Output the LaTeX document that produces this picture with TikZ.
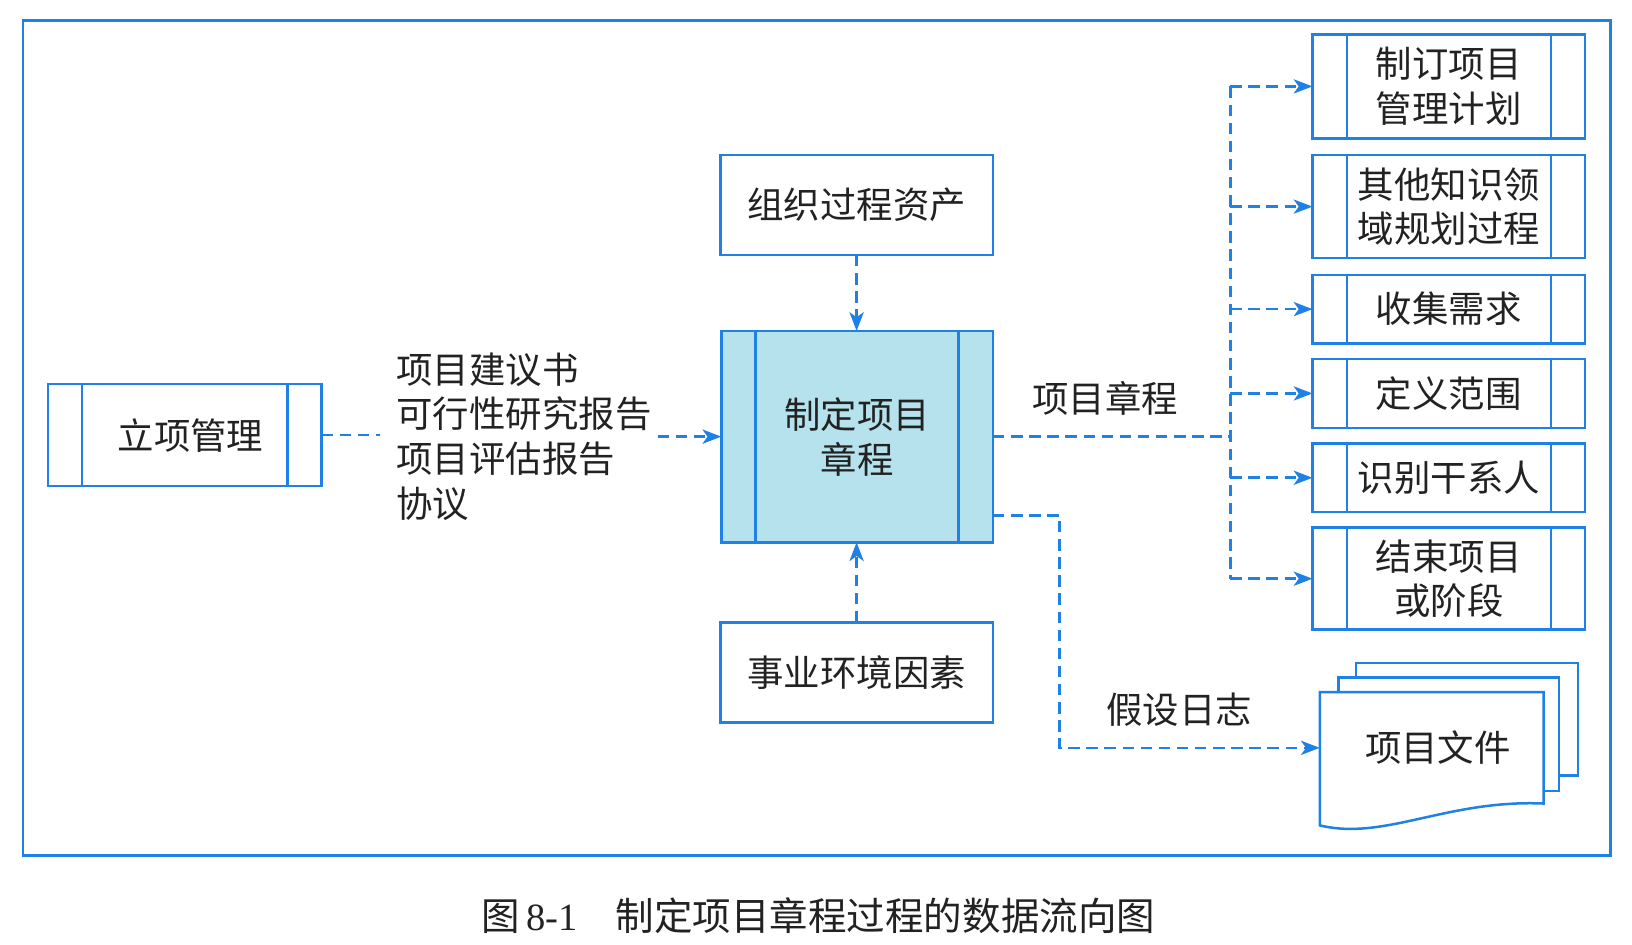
\documentclass[tikz,border=0pt]{standalone}
\usepackage{fontspec}
\setmainfont{Noto Sans CJK SC}
\newfontfamily\serfont{Liberation Serif}
\usetikzlibrary{arrows.meta,calc}
\definecolor{bl}{HTML}{1F80E6}
\definecolor{cy}{HTML}{B5E2EC}
\definecolor{tx}{HTML}{222222}
\tikzset{
  txtfont/.style={font=\fontsize{17.5pt}{21.5pt}\selectfont},
  plainbox/.style={draw=bl, line width=1.2pt, outer sep=0pt, inner sep=0pt,
    align=center, text=tx, txtfont},
  procbox/.style={plainbox,
    path picture={\draw[bl,line width=1.2pt]
      ([xshift=16.5pt]path picture bounding box.north west) -- ([xshift=16.5pt]path picture bounding box.south west)
      ([xshift=-16.5pt]path picture bounding box.north east) -- ([xshift=-16.5pt]path picture bounding box.south east);}},
  flow/.style={draw=bl, line width=1.25pt, dash pattern=on 5.5pt off 3.2pt},
  arr/.style={flow, -{Stealth[length=9pt,width=6.8pt,inset=2.4pt]}},
  lbl/.style={text=tx, txtfont, inner sep=0pt, outer sep=0pt},
  docpage/.style={draw=bl, fill=white, line width=1.2pt}
}
\begin{document}
\begin{tikzpicture}[x=0.5pt,y=-0.5pt]
\useasboundingbox (0,0) rectangle (1568,907);
% outer frame
\draw[bl, line width=1.3pt] (22,20) rectangle (1547,822);

% boxes
\node[procbox, minimum width=131.5pt, minimum height=49pt] (lx) at (177.5,418) {\hspace*{5.5pt}立项管理};
\node[procbox, fill=cy, minimum width=130.5pt, minimum height=101.5pt] (cen) at (823.5,419.5) {制定项目\\章程};
\node[plainbox, minimum width=131pt, minimum height=48pt] (org) at (823,197) {组织过程资产};
\node[plainbox, minimum width=131pt, minimum height=48pt] (env) at (823,646) {事业环境因素};

\node[procbox, minimum width=131pt, minimum height=50pt] (r1) at (1392,83) {制订项目\\管理计划};
\node[procbox, minimum width=131pt, minimum height=49.5pt] (r2) at (1392,198.5) {其他知识领\\域规划过程};
\node[procbox, minimum width=131pt, minimum height=33pt] (r3) at (1392,297) {收集需求};
\node[procbox, minimum width=131pt, minimum height=33pt] (r4) at (1392,378) {定义范围};
\node[procbox, minimum width=131pt, minimum height=33pt] (r5) at (1392,459) {识别干系人};
\node[procbox, minimum width=131pt, minimum height=49pt] (r6) at (1392,556) {结束项目\\或阶段};

% inputs text
\node[lbl, anchor=west, align=left] (ins) at (381,419.5) {项目建议书\\可行性研究报告\\项目评估报告\\协议};

% labels
\node[lbl] (lblc) at (1062,383) {项目章程};
\node[lbl] (lbla) at (1133,682) {假设日志};

% document stack
\filldraw[docpage] (1303,637) rectangle (1516,745);
\filldraw[docpage] (1286,651) rectangle (1498,760);
\filldraw[docpage] (1268,665) -- (1483,665) -- (1483,772)
  .. controls (1390,768) and (1330,808) .. (1268,793) -- cycle;
\node[lbl, minimum width=107.5pt, minimum height=53.5pt] (doc) at (1375.5,718.5) {\hspace*{6pt}项目文件};

% connectors
\draw[flow, shorten >=8pt] (lx.east) -- (lx.east -| ins.west);
\draw[arr, shorten <=3pt] (cen.west -| ins.east) -- (cen.west);
\draw[arr] (org.south) -- (org.south |- cen.north);
\draw[arr] (env.north) -- (env.north |- cen.south);

\coordinate (bus) at (1182,418);
\draw[flow] (cen.east) -- (cen.east -| bus);
\draw[flow] (bus |- r1.west) -- (bus |- r6.west);
\foreach \r in {r1,r2,r3,r4,r5,r6}
  \draw[arr] (bus |- \r.west) -- (\r.west);

\draw[arr] ([yshift=-37.75pt]cen.east) -- ++(64,0) |- (doc.west);

% caption
\node[text=tx, font=\fontsize{18.5pt}{22pt}\selectfont, inner sep=0pt] (cap) at (786,880)
  {图\,{\serfont 8-1}\quad 制定项目章程过程的数据流向图};
\end{tikzpicture}
\end{document}
